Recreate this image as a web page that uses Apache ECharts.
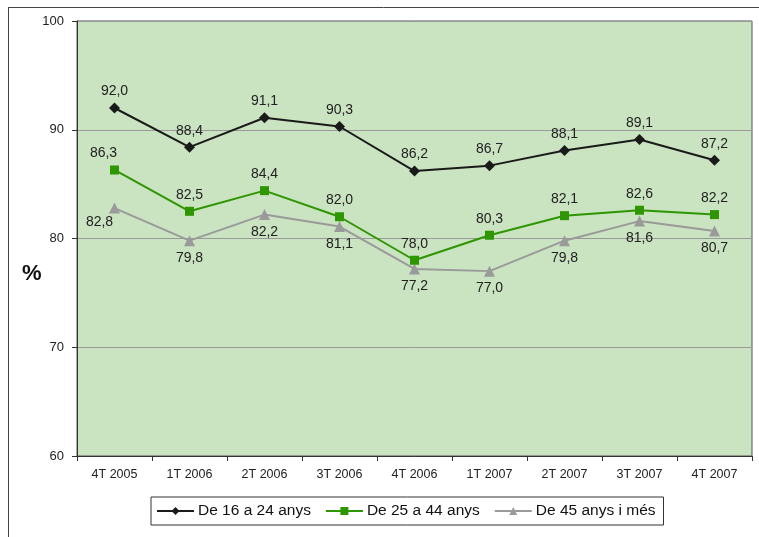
<!DOCTYPE html>
<html><head><meta charset="utf-8">
<script src="https://cdn.jsdelivr.net/npm/echarts@6/dist/echarts.min.js"></script>
<style>html,body{margin:0;padding:0;background:#fff}#c{width:759px;height:537px}</style>
</head><body><div id="c"></div>
<script>
const categories = ['4T 2005','1T 2006','2T 2006','3T 2006','4T 2006','1T 2007','2T 2007','3T 2007','4T 2007'];
const serie16_24 = [92.0, 88.4, 91.1, 90.3, 86.2, 86.7, 88.1, 89.1, 87.2];
const serie25_44 = [86.3, 82.5, 84.4, 82.0, 78.0, 80.3, 82.1, 82.6, 82.2];
const serie45 = [82.8, 79.8, 82.2, 81.1, 77.2, 77.0, 79.8, 81.6, 80.7];
const seriesNames = ['De 16 a 24 anys','De 25 a 44 anys','De 45 anys i més'];
const yTicks = [60, 70, 80, 90, 100];

const fmt = p => p.value.toFixed(1).replace('.', ',');
const FONT = 'Liberation Sans, Arial, sans-serif';
const chart = echarts.init(document.getElementById('c'));
const lbl = (pos, d) => ({show: true, position: pos, distance: d, formatter: fmt, color: '#222', fontSize: 14, fontFamily: FONT});
// first point labels of green and gray series are nudged left in the original
const withShift = (arr, shifts) => arr.map((v, i) => shifts[i] ? {value: v, label: {offset: shifts[i]}} : v);
chart.setOption({
  animation: false,
  textStyle: {fontFamily: FONT},
  graphic: [
    {type: 'line', shape: {x1: 8, y1: 7.5, x2: 759, y2: 7.5}, style: {stroke: '#444', lineWidth: 1}},
    {type: 'line', shape: {x1: 8.5, y1: 7, x2: 8.5, y2: 537}, style: {stroke: '#444', lineWidth: 1}},
    {type: 'text', left: 22, top: 263, style: {text: '%', fontSize: 22, fontWeight: 'bold', fill: '#111', fontFamily: FONT}}
  ],
  grid: {left: 77, top: 21, right: 7, bottom: 81, show: true, backgroundColor: '#CAE3C1', borderColor: '#555', borderWidth: 1},
  legend: {
    top: 497, left: 151, itemWidth: 37, itemHeight: 10, itemGap: 14,
    borderColor: '#333', borderWidth: 1, borderRadius: 0, padding: [6, 8, 6, 5],
    textStyle: {fontSize: 15.5, color: '#111', fontFamily: FONT, padding: [0, 0, 0, -1]},
    data: seriesNames
  },
  xAxis: {
    type: 'category', data: categories, boundaryGap: true,
    axisLine: {lineStyle: {color: '#333'}},
    axisTick: {show: true, length: 5, lineStyle: {color: '#333'}},
    axisLabel: {color: '#222', fontSize: 12.5, margin: 12, fontFamily: 'Liberation Sans Narrow, Arial Narrow, Liberation Sans, sans-serif'},
    splitLine: {show: false}
  },
  yAxis: {
    type: 'value', min: yTicks[0], max: yTicks[yTicks.length-1], interval: 10,
    axisLine: {show: true, lineStyle: {color: '#333'}},
    axisTick: {show: true, length: 5, lineStyle: {color: '#333'}},
    axisLabel: {color: '#222', fontSize: 13, margin: 13, fontFamily: FONT},
    splitLine: {show: true, lineStyle: {color: '#999', width: 1}}
  },
  series: [
    {name: seriesNames[0], type: 'line', data: serie16_24, symbol: 'diamond', symbolSize: 11,
     itemStyle: {color: '#1a1a1a'}, lineStyle: {color: '#1a1a1a', width: 2}, label: lbl('top', 4), z: 3},
    {name: seriesNames[1], type: 'line', data: withShift(serie25_44, {0: [-11, 0]}), symbol: 'rect', symbolSize: 9,
     itemStyle: {color: '#2E9600'}, lineStyle: {color: '#2E9600', width: 2}, label: lbl('top', 5), z: 4},
    {name: seriesNames[2], type: 'line', data: withShift(serie45, {0: [-15, -3]}), symbol: 'triangle', symbolSize: 11,
     itemStyle: {color: '#9a9a9a'}, lineStyle: {color: '#9a9a9a', width: 2}, label: lbl('bottom', 5), z: 2}
  ]
});
</script></body></html>
